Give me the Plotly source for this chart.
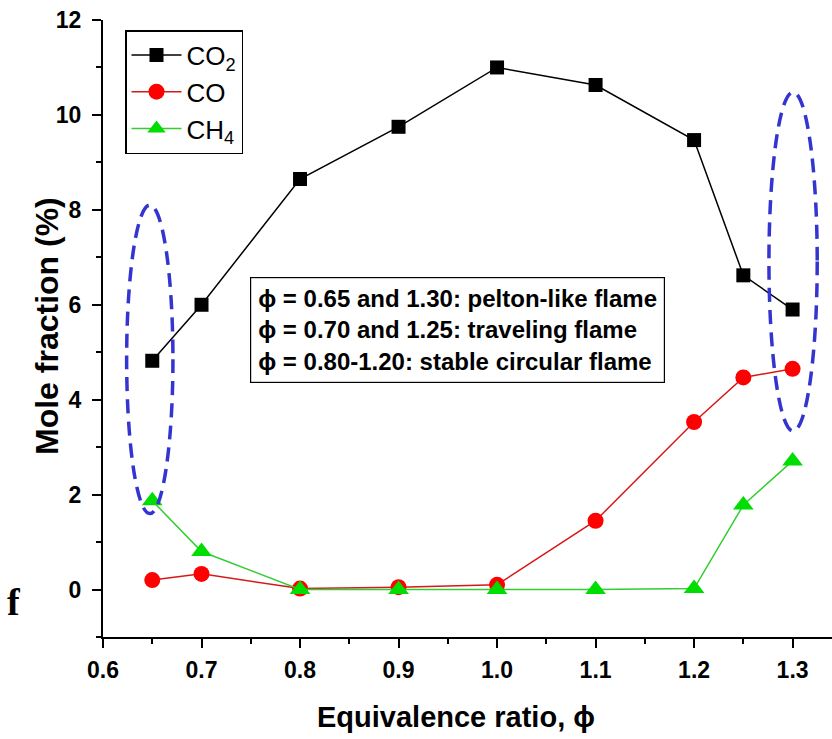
import plotly.graph_objects as go

phi = [0.65, 0.70, 0.80, 0.90, 1.00, 1.10, 1.20, 1.25, 1.30]
co2 = [4.82, 6.0, 8.65, 9.75, 11.0, 10.63, 9.47, 6.62, 5.9]
co = [0.2, 0.33, 0.02, 0.05, 0.1, 1.45, 3.53, 4.47, 4.65]
ch4 = [1.87, 0.8, 0.0, 0.0, 0.0, 0.0, 0.02, 1.78, 2.71]

xticks = [0.6, 0.7, 0.8, 0.9, 1.0, 1.1, 1.2, 1.3]
xticklabels = ["0.6", "0.7", "0.8", "0.9", "1.0", "1.1", "1.2", "1.3"]
yticks = [0, 2, 4, 6, 8, 10, 12]

note_lines = [
    "\u03d5 = 0.65 and 1.30: pelton-like flame",
    "\u03d5 = 0.70 and 1.25: traveling flame",
    "\u03d5 = 0.80-1.20: stable circular flame",
]

FONT = "Arial, Liberation Sans, sans-serif"

L, R, T, B = 103, 0, 20, 102
W, H = 832, 739
pw, ph = W - L - R, H - T - B


def px(xp):
    return (xp - L) / pw


def py(yp):
    return (H - B - yp) / ph


fig = go.Figure()
fig.add_trace(go.Scatter(x=phi, y=co2, mode="lines+markers", name="CO<sub>2</sub>",
                         line=dict(color="black", width=1.5),
                         marker=dict(symbol="square", size=14, color="black")))
fig.add_trace(go.Scatter(x=phi, y=co, mode="lines+markers", name="CO",
                         line=dict(color="#d81818", width=1.5),
                         marker=dict(symbol="circle", size=16, color="#ff0000")))
fig.add_trace(go.Scatter(x=phi, y=ch4, mode="lines+markers", name="CH<sub>4</sub>",
                         line=dict(color="#33cc33", width=1.5),
                         marker=dict(symbol="triangle-up", size=18, color="#00dd00")))

# dashed ellipses
fig.add_shape(type="circle", xref="x", yref="y", x0=0.624, x1=0.671, y0=1.6, y1=8.1,
              line=dict(color="#3434d0", width=3.5, dash="14px,8px"))
fig.add_shape(type="circle", xref="x", yref="y", x0=1.276, x1=1.325, y0=3.34, y1=10.48,
              line=dict(color="#3434d0", width=3.5, dash="14px,8px"))

fig.add_annotation(x=px(250), y=py(277), xref="paper", yref="paper",
                   xanchor="left", yanchor="top", align="left", showarrow=False,
                   text="<br>".join(note_lines),
                   font=dict(family=FONT, size=24, color="black", weight="bold"),
                   bordercolor="black", borderwidth=1.2, borderpad=7, bgcolor="white")

fig.add_annotation(x=px(456), y=py(717), xref="paper", yref="paper", showarrow=False,
                   xanchor="center", yanchor="middle",
                   text="Equivalence ratio, \u03d5",
                   font=dict(family=FONT, size=29, color="black", weight="bold"))
fig.add_annotation(x=px(47), y=py(326), xref="paper", yref="paper", showarrow=False,
                   xanchor="center", yanchor="middle", textangle=-90,
                   text="Mole fraction (%)",
                   font=dict(family=FONT, size=32, color="black", weight="bold"))
fig.add_annotation(x=px(14), y=py(602), xref="paper", yref="paper", showarrow=False,
                   xanchor="center", yanchor="middle", text="f",
                   font=dict(family="Liberation Serif, Times New Roman, serif", size=38,
                             color="black", weight="bold"))

fig.update_layout(
    width=W, height=H,
    margin=dict(l=L, r=R, t=T, b=B),
    plot_bgcolor="white", paper_bgcolor="white",
    font=dict(family=FONT, color="black"),
    showlegend=True,
    legend=dict(x=px(125), y=py(30), xanchor="left", yanchor="top",
                bordercolor="black", borderwidth=1.5, bgcolor="white",
                font=dict(family=FONT, size=26, color="black"),
                itemwidth=50, tracegroupgap=0),
    xaxis=dict(range=[0.6, 1.34], tickvals=xticks, ticktext=xticklabels,
               showline=True, linecolor="black", linewidth=2,
               ticks="outside", ticklen=9, tickwidth=2, tickcolor="black",
               ticklabelstandoff=2,
               minor=dict(dtick=0.05, tick0=0.6, ticks="outside", ticklen=5, tickwidth=2, tickcolor="black"),
               showgrid=False, zeroline=False,
               tickfont=dict(family=FONT, size=23, color="black", weight="bold")),
    yaxis=dict(range=[-1, 12], tickvals=yticks,
               showline=True, linecolor="black", linewidth=2,
               ticks="outside", ticklen=9, tickwidth=2, tickcolor="black",
               ticklabelstandoff=6,
               minor=dict(dtick=1, tick0=0, ticks="outside", ticklen=5, tickwidth=2, tickcolor="black"),
               showgrid=False, zeroline=False,
               tickfont=dict(family=FONT, size=23, color="black", weight="bold")),
)

fig.write_html("out.html", config={"displayModeBar": False},
               post_script="document.body.style.margin='0px';")
